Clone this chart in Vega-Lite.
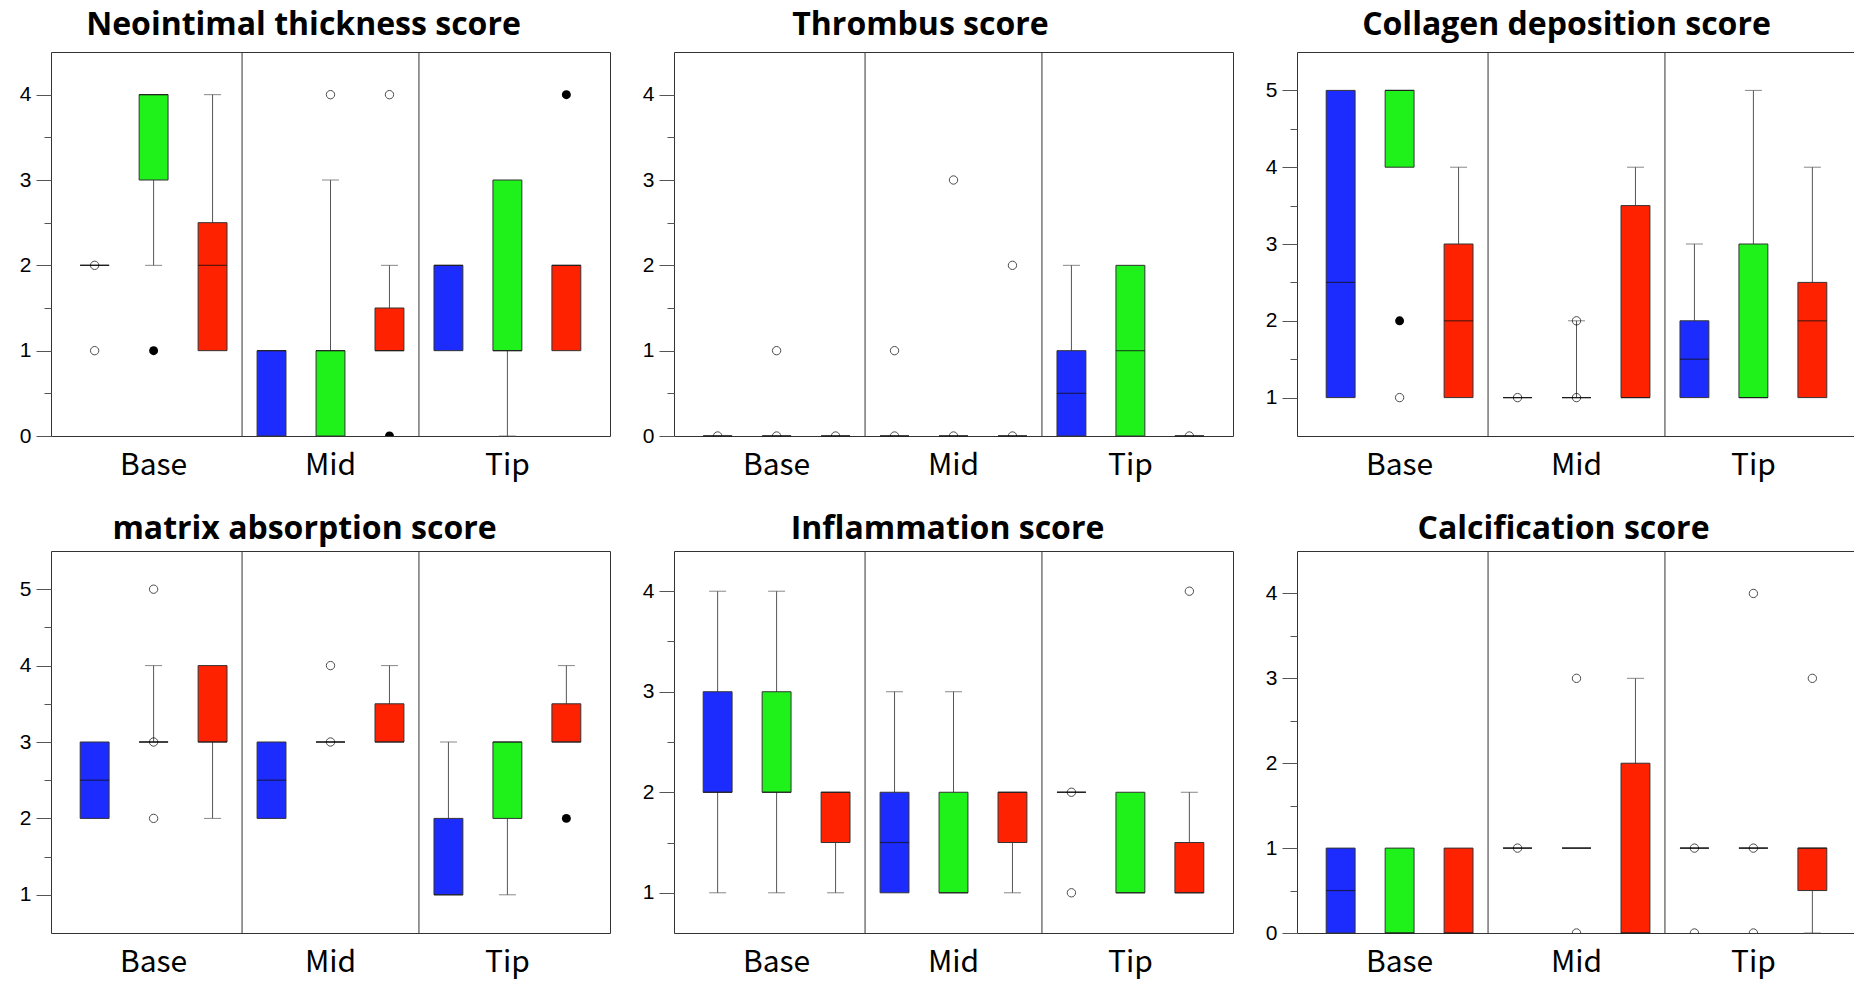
{
  "$schema": "https://vega.github.io/schema/vega-lite/v6.json",
  "padding": {"left": 18, "top": 8, "right": 0, "bottom": 8},
  "background": "white",
  "config": {
    "view": {"stroke": "#333", "strokeWidth": 1},
    "title": {"font": "Open Sans", "fontSize": 32, "fontWeight": "bold", "color": "#000", "anchor": "middle", "baseline": "alphabetic"}
  },
  "datasets": {
    "boxes": [
      {"p":1,"box":"Base-B","g":"B","lo":2,"q1":2,"med":2,"q3":2,"hi":2},
      {"p":1,"box":"Base-G","g":"G","lo":2,"q1":3,"med":4,"q3":4,"hi":4},
      {"p":1,"box":"Base-R","g":"R","lo":1,"q1":1,"med":2,"q3":2.5,"hi":4},
      {"p":1,"box":"Mid-B","g":"B","lo":0,"q1":0,"med":1,"q3":1,"hi":1},
      {"p":1,"box":"Mid-G","g":"G","lo":0,"q1":0,"med":1,"q3":1,"hi":3},
      {"p":1,"box":"Mid-R","g":"R","lo":1,"q1":1,"med":1,"q3":1.5,"hi":2},
      {"p":1,"box":"Tip-B","g":"B","lo":1,"q1":1,"med":2,"q3":2,"hi":2},
      {"p":1,"box":"Tip-G","g":"G","lo":0,"q1":1,"med":1,"q3":3,"hi":3},
      {"p":1,"box":"Tip-R","g":"R","lo":1,"q1":1,"med":2,"q3":2,"hi":2},
      {"p":2,"box":"Base-B","g":"B","lo":0,"q1":0,"med":0,"q3":0,"hi":0},
      {"p":2,"box":"Base-G","g":"G","lo":0,"q1":0,"med":0,"q3":0,"hi":0},
      {"p":2,"box":"Base-R","g":"R","lo":0,"q1":0,"med":0,"q3":0,"hi":0},
      {"p":2,"box":"Mid-B","g":"B","lo":0,"q1":0,"med":0,"q3":0,"hi":0},
      {"p":2,"box":"Mid-G","g":"G","lo":0,"q1":0,"med":0,"q3":0,"hi":0},
      {"p":2,"box":"Mid-R","g":"R","lo":0,"q1":0,"med":0,"q3":0,"hi":0},
      {"p":2,"box":"Tip-B","g":"B","lo":0,"q1":0,"med":0.5,"q3":1,"hi":2},
      {"p":2,"box":"Tip-G","g":"G","lo":0,"q1":0,"med":1,"q3":2,"hi":2},
      {"p":2,"box":"Tip-R","g":"R","lo":0,"q1":0,"med":0,"q3":0,"hi":0},
      {"p":3,"box":"Base-B","g":"B","lo":1,"q1":1,"med":2.5,"q3":5,"hi":5},
      {"p":3,"box":"Base-G","g":"G","lo":4,"q1":4,"med":5,"q3":5,"hi":5},
      {"p":3,"box":"Base-R","g":"R","lo":1,"q1":1,"med":2,"q3":3,"hi":4},
      {"p":3,"box":"Mid-B","g":"B","lo":1,"q1":1,"med":1,"q3":1,"hi":1},
      {"p":3,"box":"Mid-G","g":"G","lo":1,"q1":1,"med":1,"q3":1,"hi":2},
      {"p":3,"box":"Mid-R","g":"R","lo":1,"q1":1,"med":1,"q3":3.5,"hi":4},
      {"p":3,"box":"Tip-B","g":"B","lo":1,"q1":1,"med":1.5,"q3":2,"hi":3},
      {"p":3,"box":"Tip-G","g":"G","lo":1,"q1":1,"med":1,"q3":3,"hi":5},
      {"p":3,"box":"Tip-R","g":"R","lo":1,"q1":1,"med":2,"q3":2.5,"hi":4},
      {"p":4,"box":"Base-B","g":"B","lo":2,"q1":2,"med":2.5,"q3":3,"hi":3},
      {"p":4,"box":"Base-G","g":"G","lo":3,"q1":3,"med":3,"q3":3,"hi":4},
      {"p":4,"box":"Base-R","g":"R","lo":2,"q1":3,"med":3,"q3":4,"hi":4},
      {"p":4,"box":"Mid-B","g":"B","lo":2,"q1":2,"med":2.5,"q3":3,"hi":3},
      {"p":4,"box":"Mid-G","g":"G","lo":3,"q1":3,"med":3,"q3":3,"hi":3},
      {"p":4,"box":"Mid-R","g":"R","lo":3,"q1":3,"med":3,"q3":3.5,"hi":4},
      {"p":4,"box":"Tip-B","g":"B","lo":1,"q1":1,"med":1,"q3":2,"hi":3},
      {"p":4,"box":"Tip-G","g":"G","lo":1,"q1":2,"med":3,"q3":3,"hi":3},
      {"p":4,"box":"Tip-R","g":"R","lo":3,"q1":3,"med":3,"q3":3.5,"hi":4},
      {"p":5,"box":"Base-B","g":"B","lo":1,"q1":2,"med":2,"q3":3,"hi":4},
      {"p":5,"box":"Base-G","g":"G","lo":1,"q1":2,"med":2,"q3":3,"hi":4},
      {"p":5,"box":"Base-R","g":"R","lo":1,"q1":1.5,"med":2,"q3":2,"hi":2},
      {"p":5,"box":"Mid-B","g":"B","lo":1,"q1":1,"med":1.5,"q3":2,"hi":3},
      {"p":5,"box":"Mid-G","g":"G","lo":1,"q1":1,"med":1,"q3":2,"hi":3},
      {"p":5,"box":"Mid-R","g":"R","lo":1,"q1":1.5,"med":2,"q3":2,"hi":2},
      {"p":5,"box":"Tip-B","g":"B","lo":2,"q1":2,"med":2,"q3":2,"hi":2},
      {"p":5,"box":"Tip-G","g":"G","lo":1,"q1":1,"med":1,"q3":2,"hi":2},
      {"p":5,"box":"Tip-R","g":"R","lo":1,"q1":1,"med":1,"q3":1.5,"hi":2},
      {"p":6,"box":"Base-B","g":"B","lo":0,"q1":0,"med":0.5,"q3":1,"hi":1},
      {"p":6,"box":"Base-G","g":"G","lo":0,"q1":0,"med":0,"q3":1,"hi":1},
      {"p":6,"box":"Base-R","g":"R","lo":0,"q1":0,"med":0,"q3":1,"hi":1},
      {"p":6,"box":"Mid-B","g":"B","lo":1,"q1":1,"med":1,"q3":1,"hi":1},
      {"p":6,"box":"Mid-G","g":"G","lo":1,"q1":1,"med":1,"q3":1,"hi":1},
      {"p":6,"box":"Mid-R","g":"R","lo":0,"q1":0,"med":0,"q3":2,"hi":3},
      {"p":6,"box":"Tip-B","g":"B","lo":1,"q1":1,"med":1,"q3":1,"hi":1},
      {"p":6,"box":"Tip-G","g":"G","lo":1,"q1":1,"med":1,"q3":1,"hi":1},
      {"p":6,"box":"Tip-R","g":"R","lo":0,"q1":0.5,"med":1,"q3":1,"hi":1}
    ],
    "pts": [
      {"p":1,"box":"Base-B","v":2,"f":0},
      {"p":1,"box":"Base-B","v":1,"f":0},
      {"p":1,"box":"Base-G","v":1,"f":1},
      {"p":1,"box":"Mid-G","v":4,"f":0},
      {"p":1,"box":"Mid-R","v":4,"f":0},
      {"p":1,"box":"Mid-R","v":0,"f":1},
      {"p":1,"box":"Tip-R","v":4,"f":1},
      {"p":2,"box":"Base-B","v":0,"f":0},
      {"p":2,"box":"Base-G","v":0,"f":0},
      {"p":2,"box":"Base-G","v":1,"f":0},
      {"p":2,"box":"Base-R","v":0,"f":0},
      {"p":2,"box":"Mid-B","v":1,"f":0},
      {"p":2,"box":"Mid-B","v":0,"f":0},
      {"p":2,"box":"Mid-G","v":3,"f":0},
      {"p":2,"box":"Mid-G","v":0,"f":0},
      {"p":2,"box":"Mid-R","v":2,"f":0},
      {"p":2,"box":"Mid-R","v":0,"f":0},
      {"p":2,"box":"Tip-R","v":0,"f":0},
      {"p":3,"box":"Base-G","v":2,"f":1},
      {"p":3,"box":"Base-G","v":1,"f":0},
      {"p":3,"box":"Mid-B","v":1,"f":0},
      {"p":3,"box":"Mid-G","v":1,"f":0},
      {"p":3,"box":"Mid-G","v":2,"f":0},
      {"p":4,"box":"Base-G","v":5,"f":0},
      {"p":4,"box":"Base-G","v":3,"f":0},
      {"p":4,"box":"Base-G","v":2,"f":0},
      {"p":4,"box":"Mid-G","v":3,"f":0},
      {"p":4,"box":"Mid-G","v":4,"f":0},
      {"p":4,"box":"Tip-R","v":2,"f":1},
      {"p":5,"box":"Tip-B","v":2,"f":0},
      {"p":5,"box":"Tip-B","v":1,"f":0},
      {"p":5,"box":"Tip-R","v":4,"f":0},
      {"p":6,"box":"Mid-B","v":1,"f":0},
      {"p":6,"box":"Mid-G","v":3,"f":0},
      {"p":6,"box":"Mid-G","v":0,"f":0},
      {"p":6,"box":"Tip-B","v":1,"f":0},
      {"p":6,"box":"Tip-B","v":0,"f":0},
      {"p":6,"box":"Tip-G","v":4,"f":0},
      {"p":6,"box":"Tip-G","v":1,"f":0},
      {"p":6,"box":"Tip-G","v":0,"f":0},
      {"p":6,"box":"Tip-R","v":3,"f":0}
    ]
  },
  "vconcat": [
    {
      "hconcat": [
        {
          "width": 559, "height": 384,
          "title": {"text": "Neointimal thickness score", "dx": -27, "offset": 10},
          "encoding": {"x": {"field": "box", "type": "nominal", "title": null, "scale": {"domain": ["Base-B","Base-G","Base-R","Mid-B","Mid-G","Mid-R","Tip-B","Tip-G","Tip-R"], "paddingInner": 0, "paddingOuter": 0.24}, "axis": {"labelExpr": "datum.value == 'Base-G' ? 'Base' : datum.value == 'Mid-G' ? 'Mid' : datum.value == 'Tip-G' ? 'Tip' : ''", "ticks": false, "tickSize": 0, "domain": false, "labelAngle": 0, "labelFont": "Noto Sans CJK KR", "labelFontSize": 30, "labelColor": "#000", "labelBaseline": "alphabetic", "labelPadding": 38, "labelOverlap": false}}},
          "layer": [
            {"data": {"name": "boxes"}, "transform": [{"filter": "datum.p == 1 && (datum.box == 'Base-R' || datum.box == 'Mid-R')"}], "mark": {"type": "rule", "color": "#333", "strokeWidth": 1}, "encoding": {"x": {"field": "box", "type": "nominal", "bandPosition": 1, "title": null}}},
            {"data": {"name": "boxes"}, "transform": [{"filter": "datum.p == 1"}], "mark": {"type": "rule", "color": "#555", "strokeWidth": 1}, "encoding": {"y": {"field": "lo", "type": "quantitative", "title": null, "scale": {"domain": [0, 4.5], "nice": false, "zero": false}, "axis": {"values": [0,0.5,1,1.5,2,2.5,3,3.5,4], "labelExpr": "datum.value % 1 == 0 ? format(datum.value, 'd') : ''", "tickSize": {"condition": {"test": "datum.value % 1 == 0", "value": 15}, "value": 7}, "labelPadding": 5, "labelFont": "Liberation Sans", "labelFontSize": 21, "labelColor": "#000", "tickColor": "#555", "domain": false, "grid": false}}, "y2": {"field": "hi"}}},
            {"data": {"name": "boxes"}, "transform": [{"filter": "datum.p == 1 && datum.hi > datum.q3"}], "mark": {"type": "tick", "color": "#555", "size": 17, "thickness": 1}, "encoding": {"y": {"field": "hi", "type": "quantitative", "title": null}}},
            {"data": {"name": "boxes"}, "transform": [{"filter": "datum.p == 1 && datum.lo < datum.q1"}], "mark": {"type": "tick", "color": "#555", "size": 17, "thickness": 1}, "encoding": {"y": {"field": "lo", "type": "quantitative", "title": null}}},
            {"data": {"name": "boxes"}, "transform": [{"filter": "datum.p == 1"}], "mark": {"type": "bar", "width": {"band": 0.49}, "stroke": "#333", "strokeWidth": 1}, "encoding": {"y": {"field": "q1", "type": "quantitative", "title": null}, "y2": {"field": "q3"}, "color": {"field": "g", "type": "nominal", "legend": null, "scale": {"domain": ["B","G","R"], "range": ["#1c2cff","#1ef21a","#ff2200"]}}}},
            {"data": {"name": "boxes"}, "transform": [{"filter": "datum.p == 1"}], "mark": {"type": "tick", "color": "#111", "size": 29, "thickness": 1.2}, "encoding": {"y": {"field": "med", "type": "quantitative", "title": null}}},
            {"data": {"name": "pts"}, "transform": [{"filter": "datum.p == 1 && datum.f == 0"}], "mark": {"type": "point", "filled": false, "color": "#000", "size": 70, "strokeWidth": 1, "clip": true}, "encoding": {"y": {"field": "v", "type": "quantitative", "title": null}}},
            {"data": {"name": "pts"}, "transform": [{"filter": "datum.p == 1 && datum.f == 1"}], "mark": {"type": "point", "filled": true, "color": "#000", "size": 80, "opacity": 1, "clip": true}, "encoding": {"y": {"field": "v", "type": "quantitative", "title": null}}}
          ]
        },
        {
          "width": 559, "height": 384,
          "title": {"text": "Thrombus score", "dx": -33, "offset": 10},
          "encoding": {"x": {"field": "box", "type": "nominal", "title": null, "scale": {"domain": ["Base-B","Base-G","Base-R","Mid-B","Mid-G","Mid-R","Tip-B","Tip-G","Tip-R"], "paddingInner": 0, "paddingOuter": 0.24}, "axis": {"labelExpr": "datum.value == 'Base-G' ? 'Base' : datum.value == 'Mid-G' ? 'Mid' : datum.value == 'Tip-G' ? 'Tip' : ''", "ticks": false, "tickSize": 0, "domain": false, "labelAngle": 0, "labelFont": "Noto Sans CJK KR", "labelFontSize": 30, "labelColor": "#000", "labelBaseline": "alphabetic", "labelPadding": 38, "labelOverlap": false}}},
          "layer": [
            {"data": {"name": "boxes"}, "transform": [{"filter": "datum.p == 2 && (datum.box == 'Base-R' || datum.box == 'Mid-R')"}], "mark": {"type": "rule", "color": "#333", "strokeWidth": 1}, "encoding": {"x": {"field": "box", "type": "nominal", "bandPosition": 1, "title": null}}},
            {"data": {"name": "boxes"}, "transform": [{"filter": "datum.p == 2"}], "mark": {"type": "rule", "color": "#555", "strokeWidth": 1}, "encoding": {"y": {"field": "lo", "type": "quantitative", "title": null, "scale": {"domain": [0, 4.5], "nice": false, "zero": false}, "axis": {"values": [0,0.5,1,1.5,2,2.5,3,3.5,4], "labelExpr": "datum.value % 1 == 0 ? format(datum.value, 'd') : ''", "tickSize": {"condition": {"test": "datum.value % 1 == 0", "value": 15}, "value": 7}, "labelPadding": 5, "labelFont": "Liberation Sans", "labelFontSize": 21, "labelColor": "#000", "tickColor": "#555", "domain": false, "grid": false}}, "y2": {"field": "hi"}}},
            {"data": {"name": "boxes"}, "transform": [{"filter": "datum.p == 2 && datum.hi > datum.q3"}], "mark": {"type": "tick", "color": "#555", "size": 17, "thickness": 1}, "encoding": {"y": {"field": "hi", "type": "quantitative", "title": null}}},
            {"data": {"name": "boxes"}, "transform": [{"filter": "datum.p == 2 && datum.lo < datum.q1"}], "mark": {"type": "tick", "color": "#555", "size": 17, "thickness": 1}, "encoding": {"y": {"field": "lo", "type": "quantitative", "title": null}}},
            {"data": {"name": "boxes"}, "transform": [{"filter": "datum.p == 2"}], "mark": {"type": "bar", "width": {"band": 0.49}, "stroke": "#333", "strokeWidth": 1}, "encoding": {"y": {"field": "q1", "type": "quantitative", "title": null}, "y2": {"field": "q3"}, "color": {"field": "g", "type": "nominal", "legend": null, "scale": {"domain": ["B","G","R"], "range": ["#1c2cff","#1ef21a","#ff2200"]}}}},
            {"data": {"name": "boxes"}, "transform": [{"filter": "datum.p == 2"}], "mark": {"type": "tick", "color": "#111", "size": 29, "thickness": 1.2}, "encoding": {"y": {"field": "med", "type": "quantitative", "title": null}}},
            {"data": {"name": "pts"}, "transform": [{"filter": "datum.p == 2 && datum.f == 0"}], "mark": {"type": "point", "filled": false, "color": "#000", "size": 70, "strokeWidth": 1, "clip": true}, "encoding": {"y": {"field": "v", "type": "quantitative", "title": null}}},
            {"data": {"name": "pts"}, "transform": [{"filter": "datum.p == 2 && datum.f == 1"}], "mark": {"type": "point", "filled": true, "color": "#000", "size": 80, "opacity": 1, "clip": true}, "encoding": {"y": {"field": "v", "type": "quantitative", "title": null}}}
          ]
        },
        {
          "width": 559, "height": 384,
          "title": {"text": "Collagen deposition score", "dx": -10, "offset": 10},
          "encoding": {"x": {"field": "box", "type": "nominal", "title": null, "scale": {"domain": ["Base-B","Base-G","Base-R","Mid-B","Mid-G","Mid-R","Tip-B","Tip-G","Tip-R"], "paddingInner": 0, "paddingOuter": 0.24}, "axis": {"labelExpr": "datum.value == 'Base-G' ? 'Base' : datum.value == 'Mid-G' ? 'Mid' : datum.value == 'Tip-G' ? 'Tip' : ''", "ticks": false, "tickSize": 0, "domain": false, "labelAngle": 0, "labelFont": "Noto Sans CJK KR", "labelFontSize": 30, "labelColor": "#000", "labelBaseline": "alphabetic", "labelPadding": 38, "labelOverlap": false}}},
          "layer": [
            {"data": {"name": "boxes"}, "transform": [{"filter": "datum.p == 3 && (datum.box == 'Base-R' || datum.box == 'Mid-R')"}], "mark": {"type": "rule", "color": "#333", "strokeWidth": 1}, "encoding": {"x": {"field": "box", "type": "nominal", "bandPosition": 1, "title": null}}},
            {"data": {"name": "boxes"}, "transform": [{"filter": "datum.p == 3"}], "mark": {"type": "rule", "color": "#555", "strokeWidth": 1}, "encoding": {"y": {"field": "lo", "type": "quantitative", "title": null, "scale": {"domain": [0.5, 5.5], "nice": false, "zero": false}, "axis": {"values": [1,1.5,2,2.5,3,3.5,4,4.5,5], "labelExpr": "datum.value % 1 == 0 ? format(datum.value, 'd') : ''", "tickSize": {"condition": {"test": "datum.value % 1 == 0", "value": 15}, "value": 7}, "labelPadding": 5, "labelFont": "Liberation Sans", "labelFontSize": 21, "labelColor": "#000", "tickColor": "#555", "domain": false, "grid": false}}, "y2": {"field": "hi"}}},
            {"data": {"name": "boxes"}, "transform": [{"filter": "datum.p == 3 && datum.hi > datum.q3"}], "mark": {"type": "tick", "color": "#555", "size": 17, "thickness": 1}, "encoding": {"y": {"field": "hi", "type": "quantitative", "title": null}}},
            {"data": {"name": "boxes"}, "transform": [{"filter": "datum.p == 3 && datum.lo < datum.q1"}], "mark": {"type": "tick", "color": "#555", "size": 17, "thickness": 1}, "encoding": {"y": {"field": "lo", "type": "quantitative", "title": null}}},
            {"data": {"name": "boxes"}, "transform": [{"filter": "datum.p == 3"}], "mark": {"type": "bar", "width": {"band": 0.49}, "stroke": "#333", "strokeWidth": 1}, "encoding": {"y": {"field": "q1", "type": "quantitative", "title": null}, "y2": {"field": "q3"}, "color": {"field": "g", "type": "nominal", "legend": null, "scale": {"domain": ["B","G","R"], "range": ["#1c2cff","#1ef21a","#ff2200"]}}}},
            {"data": {"name": "boxes"}, "transform": [{"filter": "datum.p == 3"}], "mark": {"type": "tick", "color": "#111", "size": 29, "thickness": 1.2}, "encoding": {"y": {"field": "med", "type": "quantitative", "title": null}}},
            {"data": {"name": "pts"}, "transform": [{"filter": "datum.p == 3 && datum.f == 0"}], "mark": {"type": "point", "filled": false, "color": "#000", "size": 70, "strokeWidth": 1, "clip": true}, "encoding": {"y": {"field": "v", "type": "quantitative", "title": null}}},
            {"data": {"name": "pts"}, "transform": [{"filter": "datum.p == 3 && datum.f == 1"}], "mark": {"type": "point", "filled": true, "color": "#000", "size": 80, "opacity": 1, "clip": true}, "encoding": {"y": {"field": "v", "type": "quantitative", "title": null}}}
          ]
        }
      ],
      "spacing": 30
    },
    {
      "hconcat": [
        {
          "width": 559, "height": 382,
          "title": {"text": "matrix absorption score", "dx": -26, "offset": 5},
          "encoding": {"x": {"field": "box", "type": "nominal", "title": null, "scale": {"domain": ["Base-B","Base-G","Base-R","Mid-B","Mid-G","Mid-R","Tip-B","Tip-G","Tip-R"], "paddingInner": 0, "paddingOuter": 0.24}, "axis": {"labelExpr": "datum.value == 'Base-G' ? 'Base' : datum.value == 'Mid-G' ? 'Mid' : datum.value == 'Tip-G' ? 'Tip' : ''", "ticks": false, "tickSize": 0, "domain": false, "labelAngle": 0, "labelFont": "Noto Sans CJK KR", "labelFontSize": 30, "labelColor": "#000", "labelBaseline": "alphabetic", "labelPadding": 38, "labelOverlap": false}}},
          "layer": [
            {"data": {"name": "boxes"}, "transform": [{"filter": "datum.p == 4 && (datum.box == 'Base-R' || datum.box == 'Mid-R')"}], "mark": {"type": "rule", "color": "#333", "strokeWidth": 1}, "encoding": {"x": {"field": "box", "type": "nominal", "bandPosition": 1, "title": null}}},
            {"data": {"name": "boxes"}, "transform": [{"filter": "datum.p == 4"}], "mark": {"type": "rule", "color": "#555", "strokeWidth": 1}, "encoding": {"y": {"field": "lo", "type": "quantitative", "title": null, "scale": {"domain": [0.5, 5.5], "nice": false, "zero": false}, "axis": {"values": [1,1.5,2,2.5,3,3.5,4,4.5,5], "labelExpr": "datum.value % 1 == 0 ? format(datum.value, 'd') : ''", "tickSize": {"condition": {"test": "datum.value % 1 == 0", "value": 15}, "value": 7}, "labelPadding": 5, "labelFont": "Liberation Sans", "labelFontSize": 21, "labelColor": "#000", "tickColor": "#555", "domain": false, "grid": false}}, "y2": {"field": "hi"}}},
            {"data": {"name": "boxes"}, "transform": [{"filter": "datum.p == 4 && datum.hi > datum.q3"}], "mark": {"type": "tick", "color": "#555", "size": 17, "thickness": 1}, "encoding": {"y": {"field": "hi", "type": "quantitative", "title": null}}},
            {"data": {"name": "boxes"}, "transform": [{"filter": "datum.p == 4 && datum.lo < datum.q1"}], "mark": {"type": "tick", "color": "#555", "size": 17, "thickness": 1}, "encoding": {"y": {"field": "lo", "type": "quantitative", "title": null}}},
            {"data": {"name": "boxes"}, "transform": [{"filter": "datum.p == 4"}], "mark": {"type": "bar", "width": {"band": 0.49}, "stroke": "#333", "strokeWidth": 1}, "encoding": {"y": {"field": "q1", "type": "quantitative", "title": null}, "y2": {"field": "q3"}, "color": {"field": "g", "type": "nominal", "legend": null, "scale": {"domain": ["B","G","R"], "range": ["#1c2cff","#1ef21a","#ff2200"]}}}},
            {"data": {"name": "boxes"}, "transform": [{"filter": "datum.p == 4"}], "mark": {"type": "tick", "color": "#111", "size": 29, "thickness": 1.2}, "encoding": {"y": {"field": "med", "type": "quantitative", "title": null}}},
            {"data": {"name": "pts"}, "transform": [{"filter": "datum.p == 4 && datum.f == 0"}], "mark": {"type": "point", "filled": false, "color": "#000", "size": 70, "strokeWidth": 1, "clip": true}, "encoding": {"y": {"field": "v", "type": "quantitative", "title": null}}},
            {"data": {"name": "pts"}, "transform": [{"filter": "datum.p == 4 && datum.f == 1"}], "mark": {"type": "point", "filled": true, "color": "#000", "size": 80, "opacity": 1, "clip": true}, "encoding": {"y": {"field": "v", "type": "quantitative", "title": null}}}
          ]
        },
        {
          "width": 559, "height": 382,
          "title": {"text": "Inflammation score", "dx": -6, "offset": 5},
          "encoding": {"x": {"field": "box", "type": "nominal", "title": null, "scale": {"domain": ["Base-B","Base-G","Base-R","Mid-B","Mid-G","Mid-R","Tip-B","Tip-G","Tip-R"], "paddingInner": 0, "paddingOuter": 0.24}, "axis": {"labelExpr": "datum.value == 'Base-G' ? 'Base' : datum.value == 'Mid-G' ? 'Mid' : datum.value == 'Tip-G' ? 'Tip' : ''", "ticks": false, "tickSize": 0, "domain": false, "labelAngle": 0, "labelFont": "Noto Sans CJK KR", "labelFontSize": 30, "labelColor": "#000", "labelBaseline": "alphabetic", "labelPadding": 38, "labelOverlap": false}}},
          "layer": [
            {"data": {"name": "boxes"}, "transform": [{"filter": "datum.p == 5 && (datum.box == 'Base-R' || datum.box == 'Mid-R')"}], "mark": {"type": "rule", "color": "#333", "strokeWidth": 1}, "encoding": {"x": {"field": "box", "type": "nominal", "bandPosition": 1, "title": null}}},
            {"data": {"name": "boxes"}, "transform": [{"filter": "datum.p == 5"}], "mark": {"type": "rule", "color": "#555", "strokeWidth": 1}, "encoding": {"y": {"field": "lo", "type": "quantitative", "title": null, "scale": {"domain": [0.6, 4.4], "nice": false, "zero": false}, "axis": {"values": [1,1.5,2,2.5,3,3.5,4], "labelExpr": "datum.value % 1 == 0 ? format(datum.value, 'd') : ''", "tickSize": {"condition": {"test": "datum.value % 1 == 0", "value": 15}, "value": 7}, "labelPadding": 5, "labelFont": "Liberation Sans", "labelFontSize": 21, "labelColor": "#000", "tickColor": "#555", "domain": false, "grid": false}}, "y2": {"field": "hi"}}},
            {"data": {"name": "boxes"}, "transform": [{"filter": "datum.p == 5 && datum.hi > datum.q3"}], "mark": {"type": "tick", "color": "#555", "size": 17, "thickness": 1}, "encoding": {"y": {"field": "hi", "type": "quantitative", "title": null}}},
            {"data": {"name": "boxes"}, "transform": [{"filter": "datum.p == 5 && datum.lo < datum.q1"}], "mark": {"type": "tick", "color": "#555", "size": 17, "thickness": 1}, "encoding": {"y": {"field": "lo", "type": "quantitative", "title": null}}},
            {"data": {"name": "boxes"}, "transform": [{"filter": "datum.p == 5"}], "mark": {"type": "bar", "width": {"band": 0.49}, "stroke": "#333", "strokeWidth": 1}, "encoding": {"y": {"field": "q1", "type": "quantitative", "title": null}, "y2": {"field": "q3"}, "color": {"field": "g", "type": "nominal", "legend": null, "scale": {"domain": ["B","G","R"], "range": ["#1c2cff","#1ef21a","#ff2200"]}}}},
            {"data": {"name": "boxes"}, "transform": [{"filter": "datum.p == 5"}], "mark": {"type": "tick", "color": "#111", "size": 29, "thickness": 1.2}, "encoding": {"y": {"field": "med", "type": "quantitative", "title": null}}},
            {"data": {"name": "pts"}, "transform": [{"filter": "datum.p == 5 && datum.f == 0"}], "mark": {"type": "point", "filled": false, "color": "#000", "size": 70, "strokeWidth": 1, "clip": true}, "encoding": {"y": {"field": "v", "type": "quantitative", "title": null}}},
            {"data": {"name": "pts"}, "transform": [{"filter": "datum.p == 5 && datum.f == 1"}], "mark": {"type": "point", "filled": true, "color": "#000", "size": 80, "opacity": 1, "clip": true}, "encoding": {"y": {"field": "v", "type": "quantitative", "title": null}}}
          ]
        },
        {
          "width": 559, "height": 382,
          "title": {"text": "Calcification score", "dx": -13, "offset": 5},
          "encoding": {"x": {"field": "box", "type": "nominal", "title": null, "scale": {"domain": ["Base-B","Base-G","Base-R","Mid-B","Mid-G","Mid-R","Tip-B","Tip-G","Tip-R"], "paddingInner": 0, "paddingOuter": 0.24}, "axis": {"labelExpr": "datum.value == 'Base-G' ? 'Base' : datum.value == 'Mid-G' ? 'Mid' : datum.value == 'Tip-G' ? 'Tip' : ''", "ticks": false, "tickSize": 0, "domain": false, "labelAngle": 0, "labelFont": "Noto Sans CJK KR", "labelFontSize": 30, "labelColor": "#000", "labelBaseline": "alphabetic", "labelPadding": 38, "labelOverlap": false}}},
          "layer": [
            {"data": {"name": "boxes"}, "transform": [{"filter": "datum.p == 6 && (datum.box == 'Base-R' || datum.box == 'Mid-R')"}], "mark": {"type": "rule", "color": "#333", "strokeWidth": 1}, "encoding": {"x": {"field": "box", "type": "nominal", "bandPosition": 1, "title": null}}},
            {"data": {"name": "boxes"}, "transform": [{"filter": "datum.p == 6"}], "mark": {"type": "rule", "color": "#555", "strokeWidth": 1}, "encoding": {"y": {"field": "lo", "type": "quantitative", "title": null, "scale": {"domain": [0, 4.5], "nice": false, "zero": false}, "axis": {"values": [0,0.5,1,1.5,2,2.5,3,3.5,4], "labelExpr": "datum.value % 1 == 0 ? format(datum.value, 'd') : ''", "tickSize": {"condition": {"test": "datum.value % 1 == 0", "value": 15}, "value": 7}, "labelPadding": 5, "labelFont": "Liberation Sans", "labelFontSize": 21, "labelColor": "#000", "tickColor": "#555", "domain": false, "grid": false}}, "y2": {"field": "hi"}}},
            {"data": {"name": "boxes"}, "transform": [{"filter": "datum.p == 6 && datum.hi > datum.q3"}], "mark": {"type": "tick", "color": "#555", "size": 17, "thickness": 1}, "encoding": {"y": {"field": "hi", "type": "quantitative", "title": null}}},
            {"data": {"name": "boxes"}, "transform": [{"filter": "datum.p == 6 && datum.lo < datum.q1"}], "mark": {"type": "tick", "color": "#555", "size": 17, "thickness": 1}, "encoding": {"y": {"field": "lo", "type": "quantitative", "title": null}}},
            {"data": {"name": "boxes"}, "transform": [{"filter": "datum.p == 6"}], "mark": {"type": "bar", "width": {"band": 0.49}, "stroke": "#333", "strokeWidth": 1}, "encoding": {"y": {"field": "q1", "type": "quantitative", "title": null}, "y2": {"field": "q3"}, "color": {"field": "g", "type": "nominal", "legend": null, "scale": {"domain": ["B","G","R"], "range": ["#1c2cff","#1ef21a","#ff2200"]}}}},
            {"data": {"name": "boxes"}, "transform": [{"filter": "datum.p == 6"}], "mark": {"type": "tick", "color": "#111", "size": 29, "thickness": 1.2}, "encoding": {"y": {"field": "med", "type": "quantitative", "title": null}}},
            {"data": {"name": "pts"}, "transform": [{"filter": "datum.p == 6 && datum.f == 0"}], "mark": {"type": "point", "filled": false, "color": "#000", "size": 70, "strokeWidth": 1, "clip": true}, "encoding": {"y": {"field": "v", "type": "quantitative", "title": null}}},
            {"data": {"name": "pts"}, "transform": [{"filter": "datum.p == 6 && datum.f == 1"}], "mark": {"type": "point", "filled": true, "color": "#000", "size": 80, "opacity": 1, "clip": true}, "encoding": {"y": {"field": "v", "type": "quantitative", "title": null}}}
          ]
        }
      ],
      "spacing": 30
    }
  ],
  "spacing": 31
}
